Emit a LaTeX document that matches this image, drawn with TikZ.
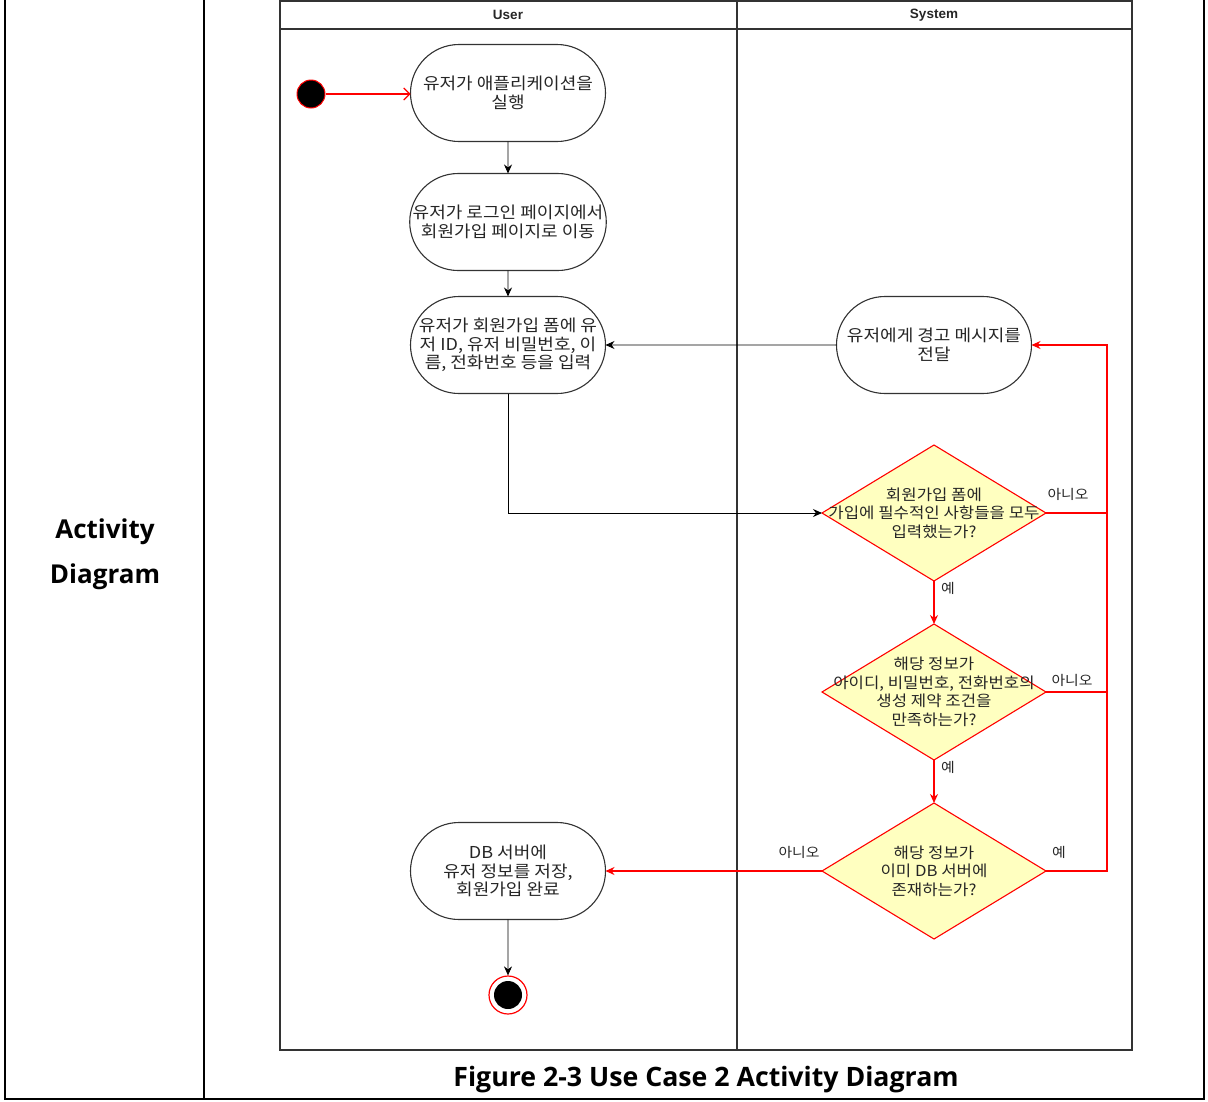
\documentclass[tikz,border=0pt]{standalone}
\usepackage{fontspec}
\setmainfont{Liberation Sans}
\newfontfamily\kr[FakeStretch=1.1]{Noto Sans CJK KR}
\newfontfamily\heading{Open Sans}
\usetikzlibrary{arrows.meta,shapes.misc,shapes.geometric}

\definecolor{lineclr}{HTML}{333333}
\definecolor{txt}{HTML}{262626}
\definecolor{redclr}{HTML}{FF0000}
\definecolor{decfill}{HTML}{FFFFC0}

\tikzset{
  activity/.style={rounded rectangle, draw=lineclr, line width=1.1pt, fill=white,
    minimum width=195pt, minimum height=97pt, inner sep=0pt, outer sep=0pt,
    align=center, font=\kr\fontsize{16.4}{18.5}\selectfont, text=txt},
  decision/.style={diamond, draw=redclr, fill=decfill, line width=1.1pt,
    minimum width=224pt, minimum height=136pt, inner sep=0pt, outer sep=0pt},
  dectext/.style={align=center, font=\kr\fontsize{15.2}{18.5}\selectfont, text=txt},
  lbl/.style={font=\kr\fontsize{13.5}{15}\selectfont, text=txt},
  lane/.style={font=\bfseries\fontsize{13.5}{16}\selectfont, text=txt},
  flow/.style={draw=black, line width=0.9pt, -{Stealth[length=9pt,width=8pt]}},
  redflow/.style={draw=redclr, line width=1.4pt, -{Stealth[length=9pt,width=8pt]}},
  redline/.style={draw=redclr, line width=1.4pt},
  openflow/.style={draw=redclr, line width=1.1pt, -{Straight Barb[length=6pt,width=12pt]}},
}

\begin{document}
\begin{tikzpicture}[x=1pt,y=-1pt]
\useasboundingbox (0,0) rectangle (1208,1101);

% table cell borders
\draw[line width=2pt, black] (5,0) -- (5,1099) -- (1204,1099) -- (1204,0);
\draw[line width=2pt, black] (204,0) -- (204,1099);
\node[font=\heading\bfseries\fontsize{26}{45}\selectfont, align=center] (cell) at (105,554) {Activity\\Diagram};
\node[font=\heading\bfseries\fontsize{26.7}{30}\selectfont] (caption) at (706,1080) {Figure 2-3 Use Case 2 Activity Diagram};

% swimlane frame
\draw[draw=lineclr, line width=1.1pt] (280,1) rectangle (1132,1050);
\draw[draw=lineclr, line width=1.1pt] (280,29) -- (1132,29);
\draw[draw=lineclr, line width=1.1pt] (737,1) -- (737,1050);
\node[lane] (userlane) at (508,15) {User};
\node[lane] (syslane) at (934,15) {System};

% start and end
\node[circle, fill=black, draw=redclr, line width=1pt, minimum size=28pt, inner sep=0pt] (start) at (311,94) {};
\node[circle, fill=white, draw=redclr, line width=1.2pt, minimum size=38pt, inner sep=0pt] (endring) at (508,995) {};
\node[circle, fill=black, minimum size=28pt, inner sep=0pt] (end) at (508,995) {};

% activities
\node[activity] (a1) at (508,93) {유저가 애플리케이션을\\실행};
\node[activity] (a2) at (508,222) {유저가 로그인 페이지에서\\회원가입 페이지로 이동};
\node[activity] (a3) at (508,345) {유저가 회원가입 폼에 유\\저 ID, 유저 비밀번호, 이\\름, 전화번호 등을 입력};
\node[activity] (warn) at (934,345) {유저에게 경고 메시지를\\전달};
\node[activity] (a4) at (508,871) {DB 서버에\\유저 정보를 저장,\\회원가입 완료};

% decisions
\node[decision] (d1) at (934,513) {};
\node[dectext] (d1t) at (d1) {회원가입 폼에\\가입에 필수적인 사항들을 모두\\입력했는가?};
\node[decision] (d2) at (934,692) {};
\node[dectext] (d2t) at (d2) {해당 정보가\\아이디, 비밀번호, 전화번호의\\생성 제약 조건을\\만족하는가?};
\node[decision] (d3) at (934,871) {};
\node[dectext] (d3t) at (d3) {해당 정보가\\이미 DB 서버에\\존재하는가?};

\coordinate (rail) at (1107,345);

% flows
\draw[openflow] (start.east) -- (start.east -| a1.west);
\draw[flow] (a1) -- (a2);
\draw[flow] (a2) -- (a3);
\draw[flow] (warn) -- (a3);
\draw[flow] (a3.south) |- (d1.west);
\draw[redflow] (d1) -- (d2);
\draw[redflow] (d2) -- (d3);
\draw[redline] (d1.east) -| (rail);
\draw[redline] (d2.east) -| (rail);
\draw[redflow] (d3.east) -| (rail) -- (warn.east);
\draw[redflow] (d3.west) -- (a4.east);
\draw[flow] (a4) -- (endring);

% branch labels
\node[lbl] (n1) at (1068,494) {아니오};
\node[lbl] (y1) at (948,588) {예};
\node[lbl] (n2) at (1072,680) {아니오};
\node[lbl] (y2) at (948,767) {예};
\node[lbl] (y3) at (1059,852) {예};
\node[lbl] (n3) at (799,852) {아니오};
\end{tikzpicture}
\end{document}
